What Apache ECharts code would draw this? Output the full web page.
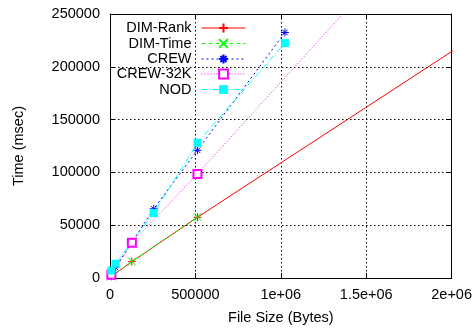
<!DOCTYPE html>
<html><head><meta charset="utf-8">
<script src="https://cdn.jsdelivr.net/npm/echarts@6/dist/echarts.min.js"></script>
<style>html,body{margin:0;padding:0;background:#fff}#c{width:475px;height:330px}</style>
</head><body><div id="c"></div>
<script>
// Data (x = file size in bytes, y = time in msec)
const seriesNames = ['DIM-Rank', 'DIM-Time', 'CREW', 'CREW-32K', 'NOD'];
const dimRank = [[8000, 1500], [128000, 15500], [512000, 57500], [2048000, 219500]];
const dimTime = [[8000, 1500], [128000, 15500], [512000, 57800]];
const crew = [[8000, 4000], [32000, 10000], [256000, 65500], [512000, 121000], [1024000, 232500]];
const crew32k = [[8000, 3000], [128000, 33400], [512000, 98600], [2048000, 372000]];
const nod = [[8000, 7000], [32000, 13500], [256000, 61500], [512000, 128000], [1024000, 222500]];
const xTicks = [0, 500000, 1000000, 1500000, 2000000];
const xTickLabels = ['0', '500000', '1e+06', '1.5e+06', '2e+06'];
const yTicks = [0, 50000, 100000, 150000, 200000, 250000];

const FONT = 'Liberation Sans, Arial, sans-serif';
const FS = 14.5;
const plusPath = 'path://M0,5L10,5M5,0L5,10';
const crossPath = 'path://M0,0L10,10M10,0L0,10';
const starPath = 'path://M0,5L10,5M5,0L5,10M1.5,1.5L8.5,8.5M8.5,1.5L1.5,8.5';

const styles = [
  {data: dimRank, color: '#ff0000', type: 'solid', symbol: plusPath, stroke: true},
  {data: dimTime, color: '#00ff00', type: [4, 3], symbol: crossPath, stroke: true},
  {data: crew, color: '#0000ff', type: [2, 3], symbol: starPath, stroke: true},
  {data: crew32k, color: '#ff00ff', type: [1, 2], symbol: 'emptyRect', stroke: false},
  {data: nod, color: '#00ffff', type: [6, 2, 1, 2], symbol: 'rect', stroke: false}
];

const series = styles.map((s, i) => ({
  name: seriesNames[i],
  type: 'line',
  data: s.data,
  symbol: s.symbol,
  symbolSize: 8,
  showAllSymbol: true,
  clip: true,
  animation: false,
  lineStyle: {color: s.color, width: 1, type: s.type},
  itemStyle: s.stroke ? {color: s.color, borderColor: s.color, borderWidth: 1}
                      : (s.symbol === 'emptyRect' ? {color: s.color, borderColor: s.color, borderWidth: 1} : {color: s.color, borderWidth: 0})
}));

const legendCenters = [28, 43.5, 59, 74, 89.5];
const legends = seriesNames.map((n, i) => ({
  data: [n],
  right: 229,
  top: legendCenters[i] - 7.5,
  align: 'right',
  orient: 'vertical',
  padding: 0,
  itemWidth: 44,
  itemHeight: 11,
  selectedMode: false,
  lineStyle: {width: 1},
  textStyle: {fontFamily: FONT, fontSize: FS, color: '#000', padding: [0, 5, 0, 0]}
}));

const axisCommon = {
  type: 'value',
  axisLine: {show: true, onZero: false, lineStyle: {color: '#000', width: 1}},
  axisTick: {show: true, inside: true, length: 5, lineStyle: {color: '#000'}},
  splitLine: {show: true, lineStyle: {color: '#000', type: [1.5, 2.5], width: 1}},
};

const chart = echarts.init(document.getElementById('c'), null, {renderer: 'canvas'});
chart.setOption({
  backgroundColor: '#fff',
  animation: false,
  grid: {left: 110, right: 23, top: 14, bottom: 49, containLabel: false},
  legend: legends,
  xAxis: [
    Object.assign({}, axisCommon, {
      min: 0, max: 2000000, interval: 500000, position: 'bottom',
      name: 'File Size (Bytes)', nameLocation: 'middle', nameGap: 32,
      nameTextStyle: {fontFamily: FONT, fontSize: FS, color: '#000'},
      axisLabel: {fontFamily: FONT, fontSize: FS, color: '#000', margin: 9,
        formatter: v => { const k = xTicks.indexOf(v); return k >= 0 ? xTickLabels[k] : ''; }}
    }),
    Object.assign({}, axisCommon, {
      min: 0, max: 2000000, interval: 500000, position: 'top',
      axisLabel: {show: false}, splitLine: {show: false}
    })
  ],
  yAxis: [
    Object.assign({}, axisCommon, {
      min: 0, max: 250000, interval: 50000, position: 'left',
      name: 'Time (msec)', nameLocation: 'middle', nameGap: 84, nameRotate: 90,
      nameTextStyle: {fontFamily: FONT, fontSize: FS, color: '#000'},
      axisLabel: {fontFamily: FONT, fontSize: FS, color: '#000', margin: 10,
        formatter: v => (yTicks.indexOf(v) >= 0 ? String(v) : '')}
    }),
    Object.assign({}, axisCommon, {
      min: 0, max: 250000, interval: 50000, position: 'right',
      axisLabel: {show: false}, splitLine: {show: false}
    })
  ],
  series: series
});
</script>
</body></html>
